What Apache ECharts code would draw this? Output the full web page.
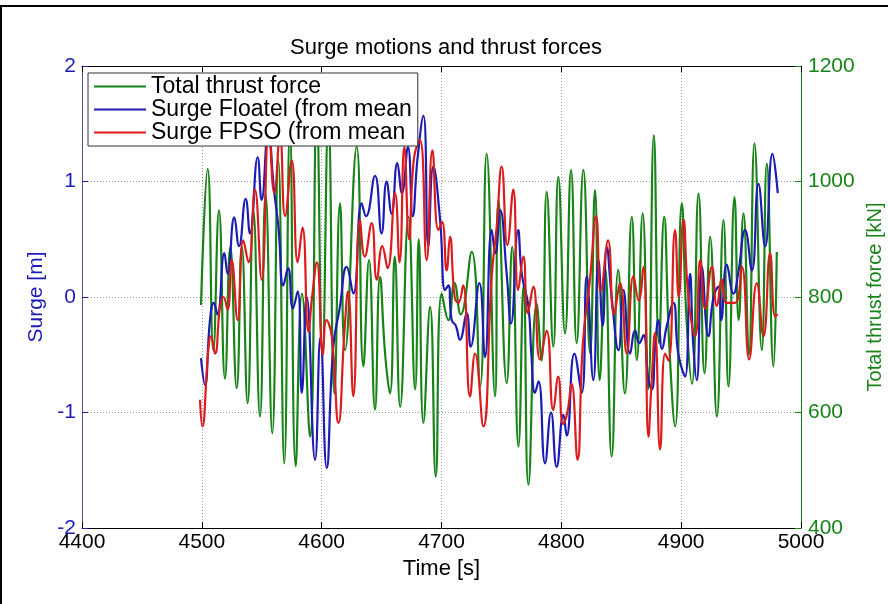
<!DOCTYPE html>
<html>
<head>
<meta charset="utf-8">
<script src="https://cdn.jsdelivr.net/npm/echarts@6/dist/echarts.min.js"></script>
<style>
  html, body { margin: 0; padding: 0; background: #fff; }
  #chart { width: 888px; height: 604px; }
</style>
</head>
<body>
<div id="chart"></div>
<script>
// Total thrust force [kN] (right axis)
var thrustTime = [4499.3, 4504.9, 4509.6, 4514.3, 4519.3, 4523.8, 4529.1, 4533.4, 4538.2, 4543.0,
  4548.5, 4553.2, 4558.8, 4563.8, 4568.8, 4573.5, 4578.3, 4583.6, 4590.3, 4595.9,
  4600.6, 4605.6, 4610.6, 4615.3, 4619.5, 4629.2, 4634.8, 4639.5, 4644.5, 4648.7,
  4653.0, 4657.0, 4661.0, 4665.5, 4672.4, 4678.0, 4681.0, 4684.9, 4690.5, 4695.2,
  4700.2, 4705.8, 4710.8, 4716.0, 4725.2, 4732.2, 4737.7, 4744.7, 4747.5, 4754.4,
  4759.0, 4764.2, 4768.5, 4772.5, 4779.4, 4783.5, 4787.8, 4793.3, 4797.5, 4803.1,
  4808.1, 4812.8, 4818.4, 4824.0, 4828.1, 4832.0, 4836.5, 4842.0, 4847.5, 4853.0,
  4858.8, 4863.0, 4867.9, 4872.5, 4877.2, 4881.5, 4885.8, 4890.0, 4895.0, 4900.5,
  4904.5, 4909.0, 4914.5, 4919.5, 4924.2, 4929.8, 4935.3, 4939.5, 4944.5, 4948.0,
  4952.0, 4956.5, 4961.2, 4967.3, 4971.5, 4977.0, 4979.8];
var thrustKN = [786, 1022, 708, 950, 659, 887, 642, 887, 616, 950,
  593, 979, 564, 1037, 512, 1090, 507, 806, 558, 1120,
  700, 1110, 633, 962, 708, 1060, 680, 864, 605, 835,
  700, 633, 870, 610, 939, 640, 900, 582, 783, 489,
  806, 760, 824, 770, 878, 645, 1048, 628, 968, 651,
  887, 541, 820, 475, 789, 690, 982, 714, 1008, 737,
  1020, 720, 1020, 703, 985, 656, 850, 524, 847, 633,
  939, 691, 945, 640, 1080, 720, 939, 720, 576, 962,
  760, 650, 979, 668, 904, 593, 933, 645, 973, 760,
  945, 700, 1066, 708, 1031, 680, 878];

// Surge Floatel [m] (left axis)
var floatelTime = [4499.3, 4502.6, 4506.8, 4510.0, 4513.0, 4518.8, 4521.5, 4527.1, 4531.0, 4536.6,
  4540.2, 4546.6, 4549.9, 4555.5, 4560.0, 4564.0, 4568.0, 4572.0, 4576.0, 4580.0,
  4583.4, 4587.5, 4594.5, 4599.0, 4604.2, 4609.7, 4615.0, 4620.9, 4626.4, 4633.4,
  4637.0, 4644.5, 4650.0, 4654.2, 4658.4, 4663.1, 4667.0, 4672.0, 4676.0, 4680.0,
  4684.9, 4689.0, 4693.2, 4698.8, 4703.0, 4705.7, 4708.5, 4712.0, 4715.4, 4721.0,
  4724.3, 4731.6, 4736.3, 4741.9, 4745.0, 4749.0, 4754.4, 4758.0, 4764.0, 4767.0,
  4772.5, 4775.0, 4778.0, 4781.0, 4786.4, 4791.4, 4796.1, 4801.7, 4804.5, 4810.9,
  4817.0, 4821.2, 4826.7, 4831.0, 4834.5, 4838.0, 4842.0, 4847.7, 4851.8, 4857.4,
  4861.6, 4865.0, 4868.5, 4872.7, 4875.5, 4878.5, 4881.0, 4884.0, 4888.0, 4893.5,
  4897.0, 4900.0, 4903.3, 4907.4, 4910.0, 4913.0, 4917.3, 4922.8, 4927.0, 4931.2,
  4933.4, 4938.1, 4943.7, 4947.5, 4953.4, 4959.0, 4964.5, 4970.1, 4976.2, 4980.6];
var floatelSurge = [-0.53, -0.76, -0.2, -0.05, -0.15, 0.38, 0.2, 0.69, 0.44, 0.85,
  0.55, 1.21, 0.84, 1.45, 0.95, 0.6, 0.1, 0.25, -0.1, 0.05,
  -0.83, 0.0, -1.41, -0.35, -1.48, -0.43, -0.1, 0.26, 0.03, 0.81,
  0.7, 1.05, 0.55, 1.0, 0.72, 1.16, 0.9, 1.3, 0.7, 1.2,
  1.57, 0.44, 1.13, 0.67, 0.06, 0.1, -0.2, -0.25, -0.37, -0.14,
  -0.43, 0.12, -0.52, 0.58, 0.38, 0.75, 0.2, -0.23, 0.58, 0.2,
  -0.08, -0.5, -0.83, -0.73, -1.44, -1.0, -1.47, -1.02, -1.2, -0.49,
  -0.83, 0.18, -0.72, 0.32, -0.25, 0.43, 0.0, -0.46, 0.06, -0.49,
  -0.29, -0.4, -0.33, -0.72, -0.8, -0.4, -0.2, -0.45, -0.25, -0.05,
  -0.45, -0.6, -0.69, 0.2, -0.4, -0.72, 0.26, -0.34, 0.0, 0.09,
  -0.2, 0.28, 0.03, 0.2, 0.58, 0.23, 0.98, 0.44, 1.24, 0.9];

// Surge FPSO [m] (left axis)
var fpsoTime = [4498.5, 4500.4, 4505.4, 4507.6, 4511.0, 4515.2, 4518.0, 4521.5, 4524.9, 4529.9,
  4534.6, 4539.0, 4544.3, 4549.9, 4556.0, 4560.5, 4565.2, 4569.5, 4575.0, 4580.0,
  4584.0, 4589.0, 4592.0, 4596.0, 4601.0, 4604.0, 4608.4, 4614.0, 4619.0, 4622.0,
  4626.4, 4632.0, 4636.0, 4641.7, 4646.0, 4650.6, 4655.0, 4661.2, 4665.0, 4669.0,
  4673.0, 4677.0, 4682.0, 4687.6, 4692.4, 4697.4, 4700.5, 4704.3, 4707.1, 4711.0,
  4714.0, 4718.0, 4723.8, 4728.0, 4734.9, 4741.9, 4746.0, 4750.2, 4755.0, 4759.9,
  4764.0, 4768.3, 4772.0, 4776.6, 4782.2, 4787.7, 4793.3, 4797.4, 4801.5, 4805.0,
  4808.5, 4813.5, 4818.0, 4823.9, 4829.0, 4833.0, 4839.0, 4844.0, 4849.0, 4854.6,
  4860.2, 4864.5, 4868.5, 4872.7, 4875.0, 4878.2, 4882.4, 4886.6, 4889.5, 4894.9,
  4898.0, 4901.9, 4906.0, 4911.7, 4915.9, 4920.0, 4925.6, 4929.8, 4934.0, 4938.0,
  4945.0, 4950.6, 4956.7, 4963.1, 4968.7, 4974.2, 4978.4, 4980.6];
var fpsoSurge = [-0.89, -1.12, -0.46, -0.34, -0.49, -0.08, 0.0, -0.11, 0.32, -0.2,
  0.49, 0.3, 0.93, 0.15, 1.45, 0.9, 1.4, 0.7, 1.18, 0.3,
  0.6, -0.3, 0.0, 0.3, -0.5, -0.2, -0.34, -1.09, -0.3, 0.05,
  -0.86, 0.67, 0.35, 0.64, 0.15, 0.44, 0.25, 0.9, 0.3, 1.3,
  0.5, 1.2, 1.36, 0.32, 1.27, 0.58, 0.65, 0.23, 0.52, 0.0,
  -0.05, 0.1, -0.86, -0.49, -1.12, 0.18, 0.6, 1.13, 0.45, 0.93,
  0.06, 0.35, -0.14, 0.09, -0.54, -0.29, -0.98, -0.69, -1.1, -1.0,
  -0.75, -1.41, -0.4, 0.15, 0.7, 0.05, 0.49, -0.15, 0.12, -0.49,
  0.18, -0.03, 0.26, -1.21, -0.8, -0.31, -1.32, -0.49, -0.55, 0.58,
  0.0, 0.67, 0.0, -0.34, 0.32, -0.1, 0.26, -0.08, 0.15, -0.05,
  -0.05, 0.26, -0.54, 0.12, -0.34, 0.38, -0.17, -0.15];

var legendNames = ['Total thrust force', 'Surge Floatel (from mean', 'Surge FPSO (from mean'];
var leftTicks = [-2, 2, 1];
var rightTicks = [400, 1200, 200];
var timeTicks = [4400, 5000, 100];

function zip(xs, ys) {
  return xs.map(function (x, i) { return [x, ys[i]]; });
}
function plain(v) { return String(v); }

var FONT = '"Liberation Sans", Arial, sans-serif';
var BLUE = '#1c1cb4';
var GREEN = '#188418';
var RED = '#dc1c1c';
var dotted = { show: true, lineStyle: { color: '#9a9a9a', type: [1, 2], width: 1 } };

var chart = echarts.init(document.getElementById('chart'));
chart.setOption({
  backgroundColor: '#fff',
  animation: false,
  title: {
    text: 'Surge motions and thrust forces',
    left: 441, top: 32, textAlign: 'center',
    textStyle: { fontFamily: FONT, fontSize: 22, fontWeight: 'normal', color: '#000' }
  },
  graphic: [
    { type: 'rect', shape: { x: 0, y: 5, width: 888, height: 2 }, style: { fill: '#000' } },
    { type: 'rect', shape: { x: 0, y: 5, width: 2, height: 599 }, style: { fill: '#000' } }
  ],
  legend: {
    data: legendNames,
    orient: 'vertical',
    left: 88, top: 73,
    icon: 'rect',
    itemWidth: 52, itemHeight: 2, itemGap: 0,
    padding: [2, 6, 2, 6],
    backgroundColor: '#fff',
    borderColor: '#333', borderWidth: 1, borderRadius: 0,
    z: 10,
    textStyle: { fontFamily: FONT, fontSize: 23, color: '#000' }
  },
  grid: { left: 82, right: 87, top: 66, bottom: 76, containLabel: false, outerBoundsMode: 'none' },
  xAxis: [{
    type: 'value', position: 'bottom',
    min: timeTicks[0], max: timeTicks[1], interval: timeTicks[2],
    name: 'Time [s]', nameLocation: 'middle', nameGap: 23,
    nameTextStyle: { fontFamily: FONT, fontSize: 22, color: '#000' },
    axisLine: { onZero: false, lineStyle: { color: '#000', width: 1 } },
    axisTick: { inside: true, length: 6, lineStyle: { color: '#000' } },
    axisLabel: { fontFamily: FONT, fontSize: 21, color: '#000', margin: 4, formatter: plain },
    splitLine: dotted
  }, {
    type: 'value', position: 'top',
    min: timeTicks[0], max: timeTicks[1], interval: timeTicks[2],
    axisLine: { onZero: false, lineStyle: { color: '#000', width: 1 } },
    axisTick: { inside: true, length: 6, lineStyle: { color: '#000' } },
    axisLabel: { show: false },
    splitLine: { show: false }
  }],
  yAxis: [{
    type: 'value', position: 'left',
    min: leftTicks[0], max: leftTicks[1], interval: leftTicks[2],
    name: 'Surge [m]', nameLocation: 'middle', nameRotate: 90, nameGap: 29,
    nameTextStyle: { fontFamily: FONT, fontSize: 21, color: BLUE },
    axisLine: { show: true, onZero: false, lineStyle: { color: '#5050a0', width: 1 } },
    axisTick: { show: true, inside: true, length: 6, lineStyle: { color: BLUE } },
    axisLabel: { fontFamily: FONT, fontSize: 21, color: BLUE, margin: 6, formatter: plain },
    splitLine: dotted
  }, {
    type: 'value', position: 'right',
    min: rightTicks[0], max: rightTicks[1], interval: rightTicks[2],
    name: 'Total thrust force [kN]', nameLocation: 'middle', nameRotate: 90, nameGap: 64,
    nameTextStyle: { fontFamily: FONT, fontSize: 20, color: GREEN },
    axisLine: { show: true, onZero: false, lineStyle: { color: GREEN, width: 1 } },
    axisTick: { show: true, inside: true, length: 6, lineStyle: { color: GREEN } },
    axisLabel: { fontFamily: FONT, fontSize: 21, color: GREEN, margin: 7, formatter: plain },
    splitLine: { show: false }
  }],
  series: [{
    name: legendNames[0], type: 'line', yAxisIndex: 1,
    data: zip(thrustTime, thrustKN),
    symbol: 'none', smooth: 0.5,
    lineStyle: { color: GREEN, width: 2.2 }, itemStyle: { color: GREEN }, z: 2
  }, {
    name: legendNames[1], type: 'line', yAxisIndex: 0,
    data: zip(floatelTime, floatelSurge),
    symbol: 'none', smooth: 0.5,
    lineStyle: { color: BLUE, width: 2.2 }, itemStyle: { color: BLUE }, z: 3
  }, {
    name: legendNames[2], type: 'line', yAxisIndex: 0,
    data: zip(fpsoTime, fpsoSurge),
    symbol: 'none', smooth: 0.5,
    lineStyle: { color: RED, width: 2.2 }, itemStyle: { color: RED }, z: 4
  }]
});
</script>
</body>
</html>
